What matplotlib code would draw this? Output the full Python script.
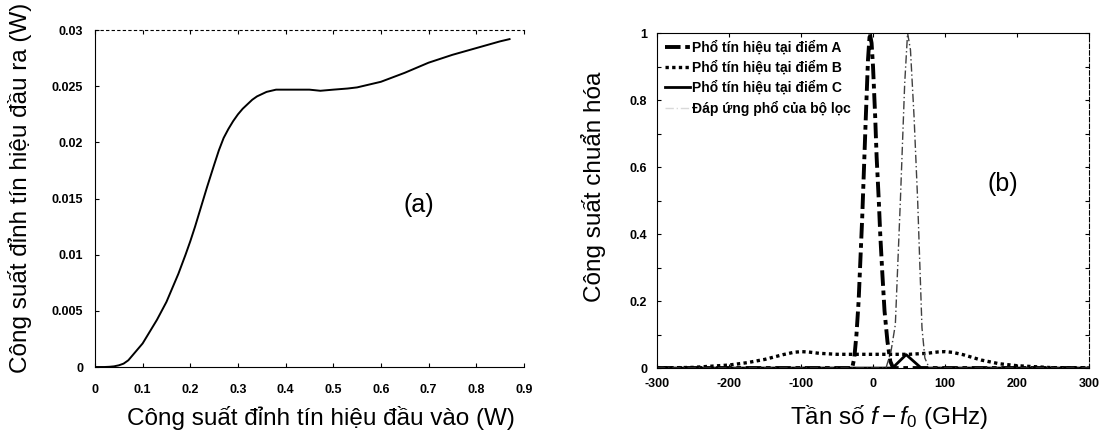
import matplotlib
matplotlib.use("Agg")
import matplotlib.pyplot as plt

plt.rcParams['font.family'] = ['Liberation Sans', 'DejaVu Sans']
plt.rcParams['mathtext.fontset'] = 'custom'
plt.rcParams['mathtext.rm'] = 'Liberation Sans'
plt.rcParams['mathtext.it'] = 'Liberation Sans:italic'

# ---- Panel (a) data ----
p_in = [0.0, 0.02, 0.03, 0.04, 0.05, 0.06, 0.07, 0.08, 0.09, 0.10, 0.11, 0.12, 0.13,
        0.14, 0.15, 0.16, 0.175, 0.19, 0.20, 0.21, 0.22, 0.235, 0.25, 0.26, 0.27,
        0.28, 0.29, 0.30, 0.31, 0.32, 0.33, 0.34, 0.35, 0.36, 0.37, 0.38, 0.40,
        0.43, 0.45, 0.473, 0.50, 0.53, 0.55, 0.58, 0.60, 0.65, 0.70, 0.75, 0.80,
        0.85, 0.87]
p_out = [0.0, 0.0, 0.00002, 0.00006, 0.00015, 0.0003, 0.0006, 0.0011, 0.0016,
         0.0021, 0.0028, 0.0035, 0.0042, 0.0050, 0.0058, 0.0068, 0.0083, 0.0100,
         0.0112, 0.0125, 0.0139, 0.0160, 0.0180, 0.0193, 0.0204, 0.0212, 0.0219,
         0.0225, 0.0230, 0.0234, 0.0238, 0.0241, 0.0243, 0.0245, 0.0246, 0.0247,
         0.0247, 0.0247, 0.0247, 0.0246, 0.0247, 0.0248, 0.0249, 0.0252, 0.0254,
         0.0262, 0.0271, 0.0278, 0.0284, 0.0290, 0.0292]
a_xticks = [0, 0.1, 0.2, 0.3, 0.4, 0.5, 0.6, 0.7, 0.8, 0.9]
a_xticklabels = ["0", "0.1", "0.2", "0.3", "0.4", "0.5", "0.6", "0.7", "0.8", "0.9"]
a_yticks = [0, 0.005, 0.01, 0.015, 0.02, 0.025, 0.03]
a_yticklabels = ["0", "0.005", "0.01", "0.015", "0.02", "0.025", "0.03"]

# ---- Panel (b) data ----
fA = [-300, -35, -29, -26, -23, -20, -15, -10, -7, -4.5, -2, 0, 3, 5, 8, 10, 13, 16, 20, 24, 28, 300]
sA = [0, 0, 0.0, 0.03, 0.10, 0.20, 0.45, 0.75, 0.92, 1.0, 0.97, 0.90, 0.75, 0.63, 0.5, 0.40, 0.28, 0.17, 0.08, 0.02, 0, 0]

fB = [-300, -250, -200, -175, -150, -125, -110, -100, -90, -75, -50, 0, 50, 75, 90, 100, 110, 125, 150, 175, 200, 250, 300]
sB = [0, 0.002, 0.009, 0.016, 0.026, 0.040, 0.047, 0.049, 0.048, 0.044, 0.041, 0.041, 0.041, 0.044, 0.048, 0.049, 0.047, 0.040, 0.024, 0.013, 0.007, 0.001, 0]

fC = [-300, 27, 46, 67, 300]
sC = [0, 0, 0.040, 0, 0]

fF = [-300, 18, 25, 31, 38, 44, 48, 52, 57, 62, 68, 72, 78, 300]
sF = [0, 0, 0.05, 0.13, 0.5, 0.85, 1.0, 0.95, 0.75, 0.5, 0.12, 0.03, 0, 0]

b_xticks = [-300, -200, -100, 0, 100, 200, 300]
b_yticks = [0, 0.1, 0.2, 0.3, 0.4, 0.5, 0.6, 0.7, 0.8, 0.9, 1.0]
b_yticklabels = ["0", "", "0.2", "", "0.4", "", "0.6", "", "0.8", "", "1"]
legend_labels = ["Phổ tín hiệu tại điểm A", "Phổ tín hiệu tại điểm B",
                 "Phổ tín hiệu tại điểm C", "Đáp ứng phổ của bộ lọc"]

fig = plt.figure(figsize=(11.11, 4.33), dpi=100)
axa = fig.add_axes([0.0855, 0.1524, 0.386, 0.778])
axb = fig.add_axes([0.5914, 0.150, 0.3888, 0.7737])

tickfont = dict(fontsize=9, fontweight='bold')
labfs = 17.5

# Panel (a)
axa.plot(p_in, p_out, color='black', lw=1.4)
axa.set_xlim(0, 0.9)
axa.set_ylim(0, 0.03)
axa.set_xticks(a_xticks)
axa.set_xticklabels(a_xticklabels, **tickfont)
axa.set_yticks(a_yticks)
axa.set_yticklabels(a_yticklabels, **tickfont)
axa.tick_params(axis='x', direction='in', length=3, top=True, pad=12)
axa.tick_params(axis='y', direction='in', length=3, right=False, pad=8.5)
axa.spines['right'].set_visible(False)
axa.spines['top'].set_linestyle((0, (2, 3)))
axa.spines['top'].set_linewidth(0.8)
axa.set_xlabel("Công suất đỉnh tín hiệu đầu vào (W)", fontsize=labfs)
axa.set_ylabel("Công suất đỉnh tín hiệu đầu ra (W)", fontsize=labfs)
axa.xaxis.set_label_coords(0.527, -0.116)
axa.yaxis.set_label_coords(-0.147, 0.532)
axa.text(0.679, 0.0144, "(a)", fontsize=18, ha='center', va='center')

# Panel (b)
axb.plot(fA, sA, color='black', lw=2.8, linestyle=(0, (4, 1.2, 1.2, 1.2)), label=legend_labels[0])
axb.plot(fB, sB, color='black', lw=2.4, linestyle=(0, (1, 1)), label=legend_labels[1])
axb.plot(fC, sC, color='black', lw=2.0, linestyle='-', label=legend_labels[2])
axb.plot(fF, sF, color='0.25', lw=1.0, linestyle=(0, (6, 2, 1, 2)), label=legend_labels[3])
axb.set_xlim(-300, 300)
axb.set_ylim(0, 1)
axb.set_xticks(b_xticks)
axb.set_xticklabels([str(v) for v in b_xticks], **tickfont)
axb.set_yticks(b_yticks)
axb.set_yticklabels(b_yticklabels, **tickfont)
axb.tick_params(axis='x', direction='in', length=3, top=True, pad=7.5)
axb.tick_params(axis='y', direction='in', length=3, right=True, pad=7)
axb.spines['right'].set_linestyle((0, (4, 2)))
axb.set_xlabel(r"Tần số $\mathit{f} - \mathit{f_0}$ (GHz)", fontsize=labfs)
axb.set_ylabel("Công suất chuẩn hóa", fontsize=labfs)
axb.xaxis.set_label_coords(0.537, -0.104)
axb.yaxis.set_label_coords(-0.118, 0.54)
axb.text(180, 0.55, "(b)", fontsize=18, ha='center', va='center')
leg = axb.legend(loc='upper left', frameon=False, prop=dict(size=10, weight='bold'),
                 handlelength=1.8, handletextpad=0.2, labelspacing=0.4,
                 borderaxespad=0.25, borderpad=0.3)
leg.get_lines()[3].set_color('0.85')

fig.savefig("out.png", dpi=100)
